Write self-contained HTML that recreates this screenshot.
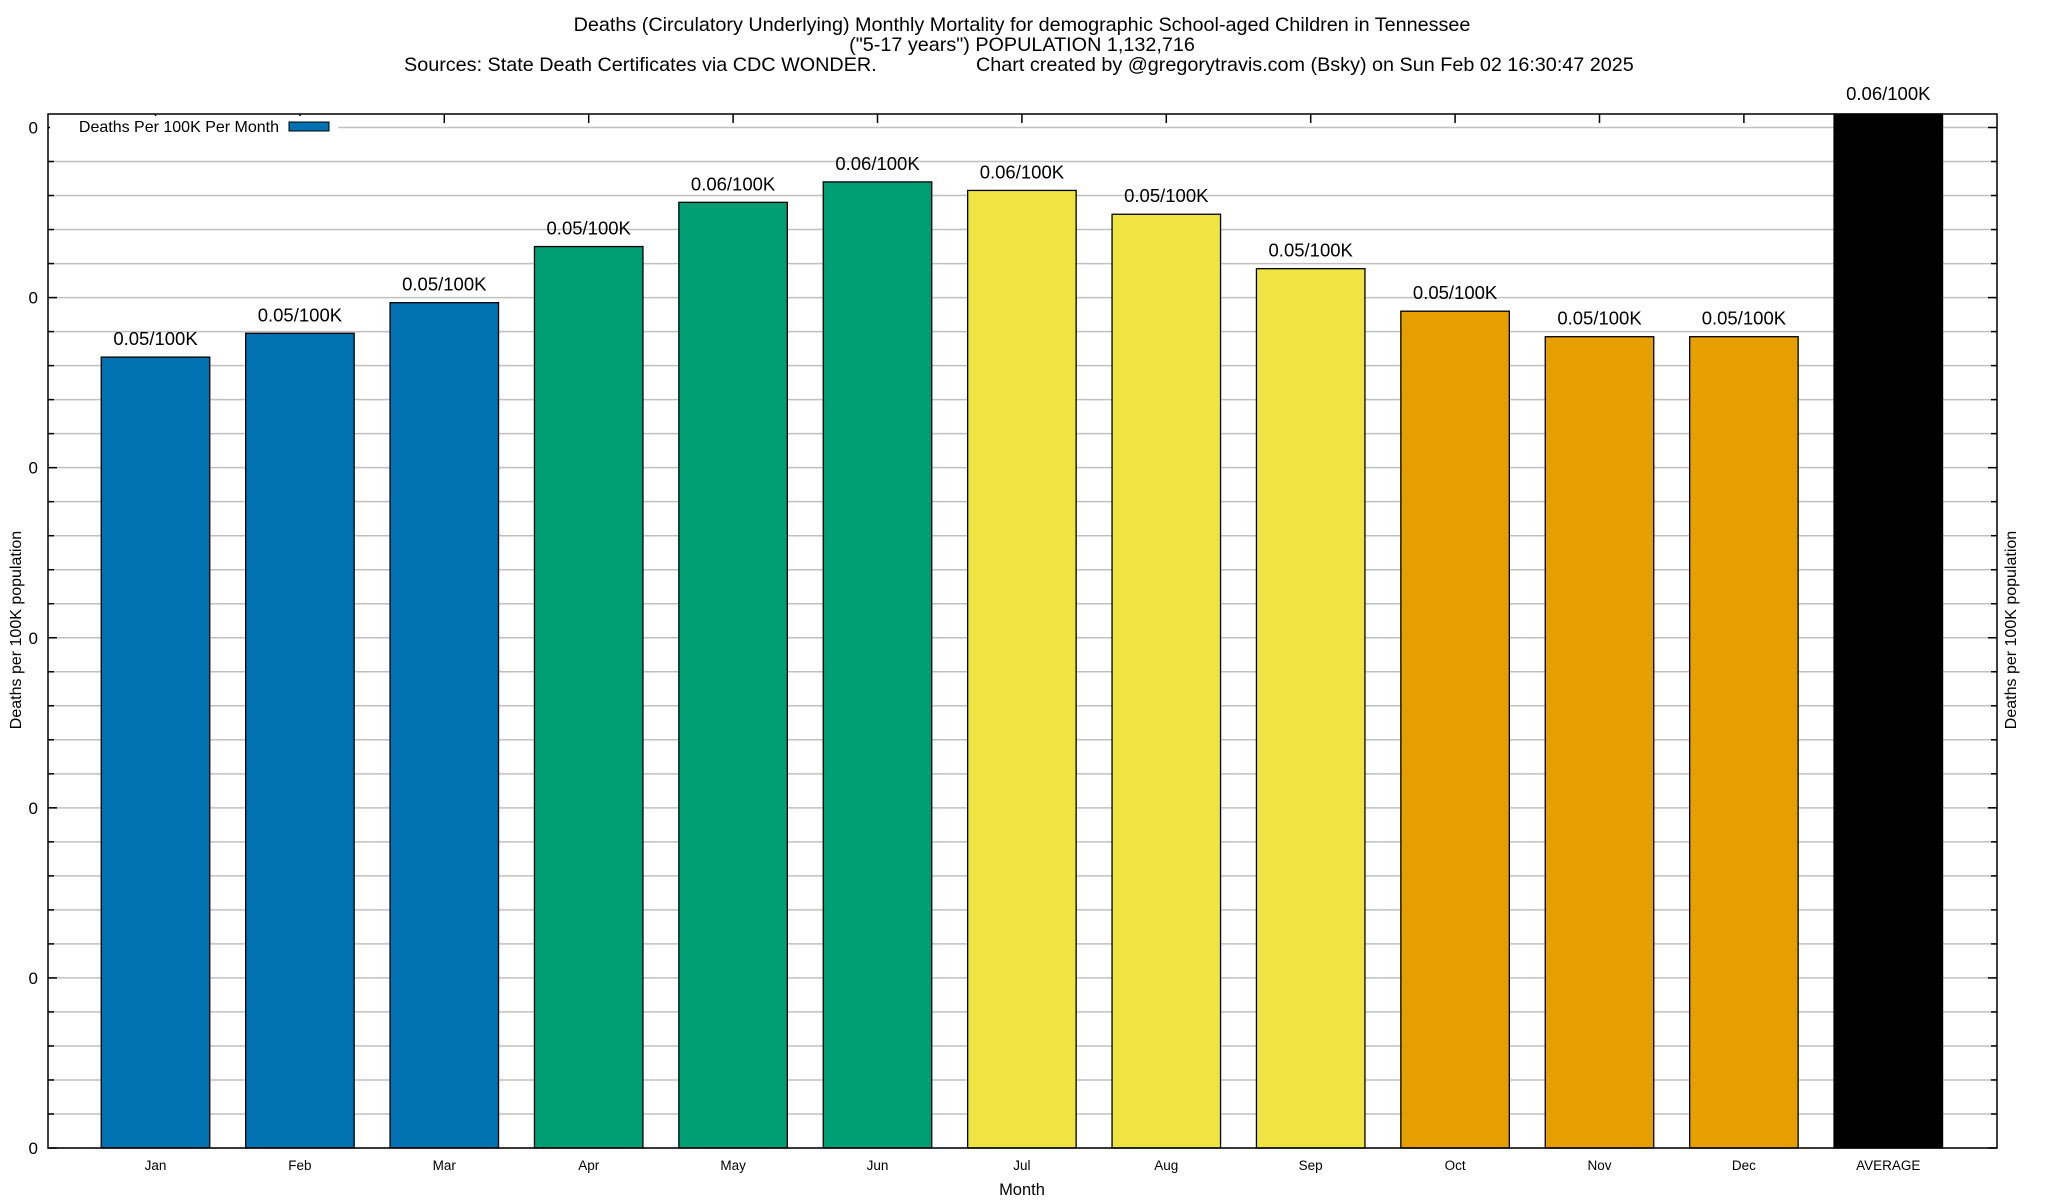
<!DOCTYPE html>
<html><head><meta charset="utf-8"><style>
html,body{margin:0;padding:0;background:#fff;}
svg{display:block;font-family:"Liberation Sans",sans-serif;}
</style></head><body>
<svg id="chart" width="2048" height="1200" viewBox="0 0 2048 1200" xmlns="http://www.w3.org/2000/svg">
<text x="1022" y="31" font-size="19.8" text-anchor="middle">Deaths (Circulatory Underlying) Monthly Mortality for demographic School-aged Children in Tennessee</text>
<text x="1022" y="51" font-size="19.8" text-anchor="middle">("5-17 years") POPULATION 1,132,716</text>
<text x="404" y="71" font-size="19.8">Sources: State Death Certificates via CDC WONDER.</text>
<text x="976" y="71" font-size="19.8">Chart created by @gregorytravis.com (Bsky) on Sun Feb 02 16:30:47 2025</text>
<g id="grid"></g>
<g id="bars"></g>
<g id="labels"></g>
<rect x="50" y="116" width="288" height="22" fill="#fff"/>
<text x="279" y="132" font-size="16" text-anchor="end">Deaths Per 100K Per Month</text>
<rect x="289" y="122" width="40" height="9" fill="#0072b2" stroke="#000" stroke-width="1"/>
<rect x="48" y="114" width="1949" height="1034" fill="none" stroke="#000" stroke-width="1.5"/>
<text transform="translate(21,630) rotate(-90)" font-size="16" text-anchor="middle">Deaths per 100K population</text>
<text transform="translate(2016,630) rotate(-90)" font-size="16" text-anchor="middle">Deaths per 100K population</text>
<text x="1022" y="1195" font-size="16.5" text-anchor="middle">Month</text>
</svg>
<script>
const categories = ["Jan","Feb","Mar","Apr","May","Jun","Jul","Aug","Sep","Oct","Nov","Dec","AVERAGE"];
const values = [0.0465,0.0479,0.0497,0.0530,0.0556,0.0568,0.0563,0.0549,0.0517,0.0492,0.0477,0.0477,0.062];
const valueLabels = ["0.05/100K","0.05/100K","0.05/100K","0.05/100K","0.06/100K","0.06/100K","0.06/100K","0.05/100K","0.05/100K","0.05/100K","0.05/100K","0.05/100K","0.06/100K"];
const colors = ["#0072b2","#0072b2","#0072b2","#009e73","#009e73","#009e73","#f0e442","#f0e442","#f0e442","#e69f00","#e69f00","#e69f00","#000000"];
const yTicks = [0,0.01,0.02,0.03,0.04,0.05,0.06];
const yTickLabels = ["0","0","0","0","0","0","0"];

const NS="http://www.w3.org/2000/svg";
const L=48,R=1997,T=114,B=1148;
const yMax=0.06, yBot=B, yTopTick=127.5;
function y(v){return yBot-(v/yMax)*(yBot-yTopTick);}
const step=144.4, x0=155.5, bw=108.5;
function x(i){return x0+i*step;}
function mk(tag,attrs,parent){const e=document.createElementNS(NS,tag);for(const k in attrs)e.setAttribute(k,attrs[k]);parent.appendChild(e);return e;}
const grid=document.getElementById('grid'),bars=document.getElementById('bars'),labels=document.getElementById('labels');
const minorStep=(yTicks[1]-yTicks[0])/5;
for(let k=0;k<=30;k++){
  const v=k*minorStep, yy=y(v);
  if(yy<T)continue;
  const g=mk('line',{x1:L,x2:R,y1:yy,y2:yy,stroke:'#c0c0c0','stroke-width':1.5},grid);
  
  
  const major=k%5===0, len=major?9:6;
  const t1=mk('line',{x1:L,x2:L+len,y1:yy,y2:yy,stroke:'#000','stroke-width':1.5},grid);
  
  
  const t2=mk('line',{x1:R-len,x2:R,y1:yy,y2:yy,stroke:'#000','stroke-width':1.5},grid);
  
  
}
yTicks.forEach((v,i)=>{
  const t=mk('text',{x:38,y:y(v)+6,'font-size':17,'text-anchor':'end'},grid);
  t.textContent=yTickLabels[i];
  
  
});
categories.forEach((c,i)=>{
  const top=Math.max(T,y(values[i]));
  const r=mk('rect',{x:x(i)-bw/2,y:top,width:bw,height:B-top,fill:colors[i],stroke:'#000','stroke-width':1.3},bars);
  
  
  const tk=mk('line',{x1:x(i),x2:x(i),y1:T,y2:T+9,stroke:'#000','stroke-width':1.5},labels);
  
  
  const vl=mk('text',{x:x(i),y:y(values[i])-12,'font-size':18.5,'text-anchor':'middle'},labels);
  if(i===categories.length-1)vl.setAttribute('y',100);
  vl.textContent=valueLabels[i];
  
  
  const cl=mk('text',{x:x(i),y:1170,'font-size':13.5,'text-anchor':'middle'},labels);
  cl.textContent=c;
  
  
});
</script>
</body></html>
